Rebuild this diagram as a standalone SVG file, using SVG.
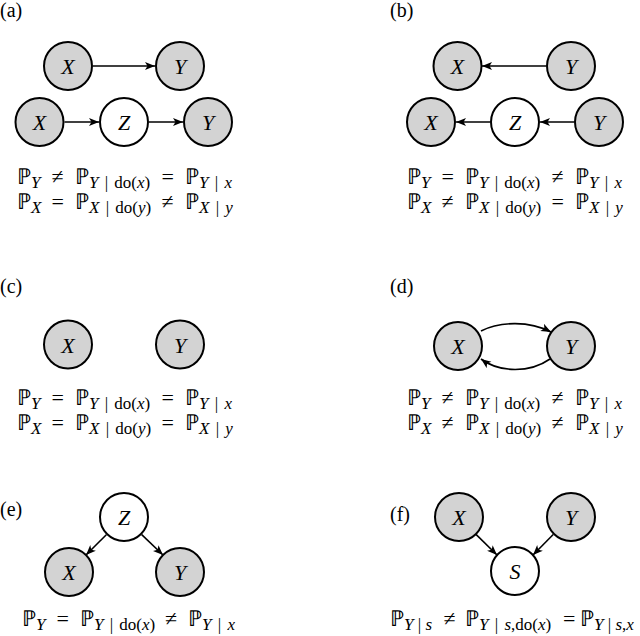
<svg xmlns="http://www.w3.org/2000/svg" width="640" height="636" viewBox="0 0 640 636">
<defs>
<style>
.g{fill:#d3d3d3;stroke:#000;stroke-width:2}
.w{fill:#fff;stroke:#000;stroke-width:2}
.n{font-style:italic;font-size:22px;text-anchor:middle}
.e{fill:none;stroke:#000;stroke-width:1.6;marker-end:url(#ah)}
.m{font-size:22px}
.s{font-size:17px;word-spacing:2px}
.t{word-spacing:0}
.i{font-style:italic}
.lb{font-size:20px}
</style>
<marker id="ah" markerUnits="userSpaceOnUse" markerWidth="11" markerHeight="9" refX="10" refY="4.5" orient="auto">
<path d="M0,0.5 L10,4.5 L0,8.5 L2.5,4.5 z" fill="#000"/>
</marker>
</defs>

<g id="labels" class="lb" font-family="Liberation Serif, serif">
<text x="0" y="17">(a)</text>
<text x="390" y="17">(b)</text>
<text x="0" y="293">(c)</text>
<text x="390" y="293">(d)</text>
<text x="0" y="516">(e)</text>
<text x="390" y="521">(f)</text>
</g>

<g id="connectors">
<line class="e" x1="93" y1="66" x2="155" y2="66"/>
<line class="e" x1="64.5" y1="122" x2="99" y2="122"/>
<line class="e" x1="149" y1="122" x2="183" y2="122"/>
<line class="e" x1="546" y1="66" x2="482" y2="66"/>
<line class="e" x1="574" y1="122" x2="540" y2="122"/>
<line class="e" x1="490" y1="122" x2="456" y2="122"/>
<path class="e" d="M481,331 C500,321 530,321 551,332"/>
<path class="e" d="M550,359 C530,373 500,373 481,359"/>
<line class="e" x1="106.3" y1="534.7" x2="86" y2="555"/>
<line class="e" x1="141.7" y1="534.7" x2="163" y2="555"/>
<line class="e" x1="476" y1="534.4" x2="497" y2="555"/>
<line class="e" x1="553.2" y1="534.5" x2="533" y2="555"/>
</g>

<g id="nodes" font-family="Liberation Serif, serif">
<g id="a-X1"><circle class="g" cx="68" cy="66" r="24"/><text class="n" x="68" y="74">X</text></g>
<g id="a-Y1"><circle class="g" cx="180" cy="66" r="24"/><text class="n" x="180" y="74">Y</text></g>
<g id="a-X2"><circle class="g" cx="39.5" cy="122" r="24"/><text class="n" x="39.5" y="130">X</text></g>
<g id="a-Z2"><circle class="w" cx="124" cy="122" r="24"/><text class="n" x="124" y="130">Z</text></g>
<g id="a-Y2"><circle class="g" cx="208" cy="122" r="24"/><text class="n" x="208" y="130">Y</text></g>

<g id="b-X1"><circle class="g" cx="457.5" cy="66" r="24"/><text class="n" x="457.5" y="74">X</text></g>
<g id="b-Y1"><circle class="g" cx="571" cy="66" r="24"/><text class="n" x="571" y="74">Y</text></g>
<g id="b-X2"><circle class="g" cx="431" cy="122" r="24"/><text class="n" x="431" y="130">X</text></g>
<g id="b-Z2"><circle class="w" cx="515" cy="122" r="24"/><text class="n" x="515" y="130">Z</text></g>
<g id="b-Y2"><circle class="g" cx="599" cy="122" r="24"/><text class="n" x="599" y="130">Y</text></g>

<g id="c-X"><circle class="g" cx="68" cy="344.5" r="24"/><text class="n" x="68" y="352.5">X</text></g>
<g id="c-Y"><circle class="g" cx="180" cy="344.5" r="24"/><text class="n" x="180" y="352.5">Y</text></g>

<g id="d-X"><circle class="g" cx="458" cy="346" r="24"/><text class="n" x="458" y="354">X</text></g>
<g id="d-Y"><circle class="g" cx="571" cy="346" r="24"/><text class="n" x="571" y="354">Y</text></g>

<g id="e-Z"><circle class="w" cx="124" cy="517" r="24"/><text class="n" x="124" y="525">Z</text></g>
<g id="e-X"><circle class="g" cx="69" cy="572" r="24"/><text class="n" x="69" y="580">X</text></g>
<g id="e-Y"><circle class="g" cx="180" cy="572" r="24"/><text class="n" x="180" y="580">Y</text></g>

<g id="f-X"><circle class="g" cx="459" cy="517" r="24"/><text class="n" x="459" y="525">X</text></g>
<g id="f-Y"><circle class="g" cx="571" cy="517" r="24"/><text class="n" x="571" y="525">Y</text></g>
<g id="f-S"><circle class="w" cx="515" cy="571" r="24"/><text class="n" x="515" y="579">S</text></g>
</g>

<g id="formulas" class="m" font-family="Liberation Serif, serif">
<text y="184"><tspan x="17">ℙ</tspan><tspan class="s i" dy="4">Y</tspan><tspan x="51.5" dy="-4">≠</tspan><tspan x="75">ℙ</tspan><tspan class="s" dy="4"><tspan class="i">Y</tspan> | do(<tspan class="i">x</tspan>)</tspan><tspan x="161.5" dy="-4">=</tspan><tspan x="185">ℙ</tspan><tspan class="s" dy="4"><tspan class="i">Y</tspan> | <tspan class="i">x</tspan></tspan></text>
<text y="209"><tspan x="17">ℙ</tspan><tspan class="s i" dy="4">X</tspan><tspan x="51.5" dy="-4">=</tspan><tspan x="75">ℙ</tspan><tspan class="s" dy="4"><tspan class="i">X</tspan> | do(<tspan class="i">y</tspan>)</tspan><tspan x="161.5" dy="-4">≠</tspan><tspan x="185">ℙ</tspan><tspan class="s" dy="4"><tspan class="i">X</tspan> | <tspan class="i">y</tspan></tspan></text>

<text y="184"><tspan x="407">ℙ</tspan><tspan class="s i" dy="4">Y</tspan><tspan x="441.5" dy="-4">=</tspan><tspan x="465">ℙ</tspan><tspan class="s" dy="4"><tspan class="i">Y</tspan> | do(<tspan class="i">x</tspan>)</tspan><tspan x="551.5" dy="-4">≠</tspan><tspan x="575">ℙ</tspan><tspan class="s" dy="4"><tspan class="i">Y</tspan> | <tspan class="i">x</tspan></tspan></text>
<text y="209"><tspan x="407">ℙ</tspan><tspan class="s i" dy="4">X</tspan><tspan x="441.5" dy="-4">≠</tspan><tspan x="465">ℙ</tspan><tspan class="s" dy="4"><tspan class="i">X</tspan> | do(<tspan class="i">y</tspan>)</tspan><tspan x="551.5" dy="-4">=</tspan><tspan x="575">ℙ</tspan><tspan class="s" dy="4"><tspan class="i">X</tspan> | <tspan class="i">y</tspan></tspan></text>

<text y="405"><tspan x="17">ℙ</tspan><tspan class="s i" dy="4">Y</tspan><tspan x="51.5" dy="-4">=</tspan><tspan x="75">ℙ</tspan><tspan class="s" dy="4"><tspan class="i">Y</tspan> | do(<tspan class="i">x</tspan>)</tspan><tspan x="161.5" dy="-4">=</tspan><tspan x="185">ℙ</tspan><tspan class="s" dy="4"><tspan class="i">Y</tspan> | <tspan class="i">x</tspan></tspan></text>
<text y="430"><tspan x="17">ℙ</tspan><tspan class="s i" dy="4">X</tspan><tspan x="51.5" dy="-4">=</tspan><tspan x="75">ℙ</tspan><tspan class="s" dy="4"><tspan class="i">X</tspan> | do(<tspan class="i">y</tspan>)</tspan><tspan x="161.5" dy="-4">=</tspan><tspan x="185">ℙ</tspan><tspan class="s" dy="4"><tspan class="i">X</tspan> | <tspan class="i">y</tspan></tspan></text>

<text y="405"><tspan x="407">ℙ</tspan><tspan class="s i" dy="4">Y</tspan><tspan x="441.5" dy="-4">≠</tspan><tspan x="465">ℙ</tspan><tspan class="s" dy="4"><tspan class="i">Y</tspan> | do(<tspan class="i">x</tspan>)</tspan><tspan x="551.5" dy="-4">≠</tspan><tspan x="575">ℙ</tspan><tspan class="s" dy="4"><tspan class="i">Y</tspan> | <tspan class="i">x</tspan></tspan></text>
<text y="430"><tspan x="407">ℙ</tspan><tspan class="s i" dy="4">X</tspan><tspan x="441.5" dy="-4">≠</tspan><tspan x="465">ℙ</tspan><tspan class="s" dy="4"><tspan class="i">X</tspan> | do(<tspan class="i">y</tspan>)</tspan><tspan x="551.5" dy="-4">≠</tspan><tspan x="575">ℙ</tspan><tspan class="s" dy="4"><tspan class="i">X</tspan> | <tspan class="i">y</tspan></tspan></text>

<text y="626"><tspan x="22">ℙ</tspan><tspan class="s i" dy="4">Y</tspan><tspan x="56.5" dy="-4">=</tspan><tspan x="80">ℙ</tspan><tspan class="s" dy="4"><tspan class="i">Y</tspan> | do(<tspan class="i">x</tspan>)</tspan><tspan x="165" dy="-4">≠</tspan><tspan x="188">ℙ</tspan><tspan class="s" dy="4"><tspan class="i">Y</tspan> | <tspan class="i">x</tspan></tspan></text>

<text y="626"><tspan x="390">ℙ</tspan><tspan class="s t" dy="4"><tspan class="i">Y</tspan> | <tspan class="i">s</tspan></tspan><tspan x="443.5" dy="-4">≠</tspan><tspan x="465">ℙ</tspan><tspan class="s" dy="4"><tspan class="i">Y</tspan> | <tspan class="i">s</tspan>,do(<tspan class="i">x</tspan>)</tspan><tspan x="563" dy="-4">=</tspan><tspan x="580">ℙ</tspan><tspan class="s t" dy="4"><tspan class="i">Y</tspan> | <tspan class="i">s</tspan>,<tspan class="i">x</tspan></tspan></text>
</g>
</svg>
